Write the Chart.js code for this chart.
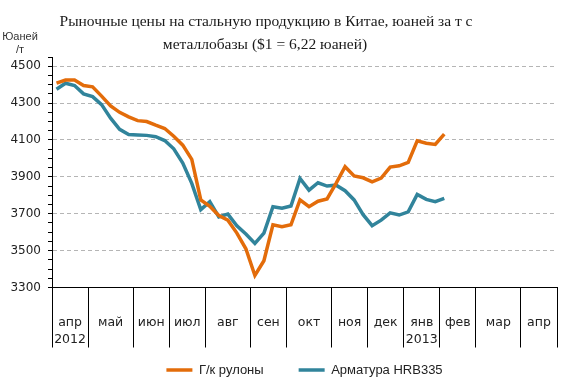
<!DOCTYPE html>
<html>
<head>
<meta charset="utf-8">
<script src="https://cdn.jsdelivr.net/npm/chart.js@4"></script>
<style>
  html, body { margin: 0; padding: 0; background: #fff; }
  #wrap { width: 574px; height: 389px; }
</style>
</head>
<body>
<div id="wrap"><canvas id="steelChart"></canvas></div>
<script>
// months on the axis, with the number of weekly slots in each
const months = ['апр', 'май', 'июн', 'июл', 'авг', 'сен', 'окт', 'ноя', 'дек', 'янв', 'фев', 'мар', 'апр'];
const monthYears = ['2012', '', '', '', '', '', '', '', '', '2013', '', '', ''];
const weeksPerMonth = [4, 5, 4, 4, 5, 4, 5, 4, 4, 4, 4, 5, 4];

// weekly prices, yuan per tonne
const coilPrices = [4408, 4425, 4425, 4395, 4388, 4338, 4285, 4250, 4225, 4205,
                    4200, 4180, 4162, 4120, 4072, 3995, 3775, 3740, 3690, 3665,
                    3595, 3510, 3365, 3445, 3640, 3630, 3640, 3775, 3738, 3768,
                    3780, 3865, 3955, 3905, 3895, 3873, 3893, 3953, 3960, 3978,
                    4095, 4082, 4076, 4132];
const rebarPrices = [4375, 4408, 4395, 4350, 4335, 4292, 4218, 4158, 4130, 4127,
                     4125, 4118, 4097, 4052, 3975, 3865, 3722, 3765, 3683, 3698,
                     3635, 3590, 3539, 3595, 3738, 3730, 3742, 3892, 3828, 3868,
                     3850, 3855, 3825, 3775, 3695, 3635, 3665, 3705, 3693, 3710,
                     3805, 3778, 3765, 3783];

const yMin = 3300;
const yMax = 4550;
const yMajorStep = 200;
const yMinorStep = 50;

// weekly categories built from the month table
const weekLabels = [];
months.forEach((m, i) => {
    for (let w = 1; w <= weeksPerMonth[i]; w++) weekLabels.push(m + ' ' + w);
});

// month boundaries and centers on the slot scale (-0.5 .. n-0.5)
const boundaries = [-0.5];
const centers = {};
weeksPerMonth.forEach((n, i) => {
    const start = boundaries[boundaries.length - 1];
    boundaries.push(start + n);
    centers[start + n / 2] = monthYears[i] ? [months[i], monthYears[i]] : months[i];
});
const boundarySet = new Set(boundaries);

// title and y unit drawn as text over the canvas
const titlePlugin = {
    id: 'titleText',
    afterDraw(chart) {
        const ctx = chart.ctx;
        ctx.save();
        ctx.fillStyle = '#1a1a1a';
        ctx.textAlign = 'center';
        ctx.textBaseline = 'middle';
        ctx.font = '15.5px "Liberation Serif"';
        ctx.fillText('Рыночные цены на стальную продукцию в Китае, юаней за т с', 266, 22);
        ctx.fillText('металлобазы ($1 = 6,22 юаней)', 265, 45);
        ctx.font = '11px "Liberation Sans"';
        ctx.fillStyle = '#333';
        ctx.fillText('Юаней', 20, 37);
        ctx.fillText('/т', 20, 50);
        ctx.restore();
    }
};

const ctx = document.getElementById('steelChart').getContext('2d');
new Chart(ctx, {
    type: 'line',
    data: {
        labels: weekLabels,
        datasets: [
            {
                label: 'Г/к рулоны',
                data: coilPrices,
                borderColor: '#E36C0A',
                backgroundColor: '#E36C0A',
                borderWidth: 3.5,
                pointRadius: 0,
                tension: 0
            },
            {
                label: 'Арматура HRB335',
                data: rebarPrices,
                borderColor: '#31849B',
                backgroundColor: '#31849B',
                borderWidth: 3.5,
                pointRadius: 0,
                tension: 0
            }
        ]
    },
    options: {
        responsive: true,
        maintainAspectRatio: false,
        animation: false,
        layout: { padding: { top: 57, left: 0, right: 17, bottom: 10.5 } },
        scales: {
            x: {
                display: false,
                offset: true
            },
            months: {
                type: 'linear',
                position: 'bottom',
                min: -0.5,
                max: weekLabels.length - 0.5,
                afterBuildTicks: scale => {
                    const vals = boundaries.concat(Object.keys(centers).map(Number)).sort((a, b) => a - b);
                    scale.ticks = vals.map(v => ({ value: v }));
                },
                afterFit: scale => { scale.height = 41; },
                grid: {
                    drawOnChartArea: false,
                    tickLength: 60,
                    color: c => (c.tick && boundarySet.has(c.tick.value)) ? '#000' : 'rgba(0,0,0,0)'
                },
                border: { display: true, color: '#000', width: 1 },
                ticks: {
                    // mirror keeps the two-line labels from being clipped to the axis box
                    mirror: true,
                    autoSkip: false,
                    maxRotation: 0,
                    minRotation: 0,
                    padding: -43.8,
                    color: '#222',
                    font: { family: 'DejaVu Sans', size: 12.5, lineHeight: 1.3 },
                    callback: v => centers[v] !== undefined ? centers[v] : ''
                }
            },
            y: {
                min: yMin,
                max: yMax,
                afterFit: scale => { scale.width = 52; },
                grid: {
                    tickLength: 4,
                    tickColor: '#000',
                    color: c => {
                        const v = c.tick ? c.tick.value : yMin;
                        return (v !== yMin && (v - yMin) % yMajorStep === 0) ? '#b5b5b5' : 'rgba(0,0,0,0)';
                    }
                },
                border: { display: true, color: '#000', width: 1, dash: [4, 3] },
                ticks: {
                    stepSize: yMinorStep,
                    autoSkip: false,
                    padding: 7,
                    color: '#222',
                    font: { family: 'DejaVu Sans', size: 12 },
                    callback: v => ((v - yMin) % yMajorStep === 0) ? String(v) : ''
                }
            }
        },
        plugins: {
            title: { display: false },
            tooltip: { enabled: false },
            legend: {
                position: 'bottom',
                fullSize: false,
                maxHeight: 50,
                labels: {
                    usePointStyle: true,
                    pointStyle: 'line',
                    pointStyleWidth: 26,
                    padding: 35,
                    color: '#222',
                    font: { family: 'Liberation Sans', size: 13 }
                }
            }
        }
    },
    plugins: [titlePlugin]
});
</script>
</body>
</html>
